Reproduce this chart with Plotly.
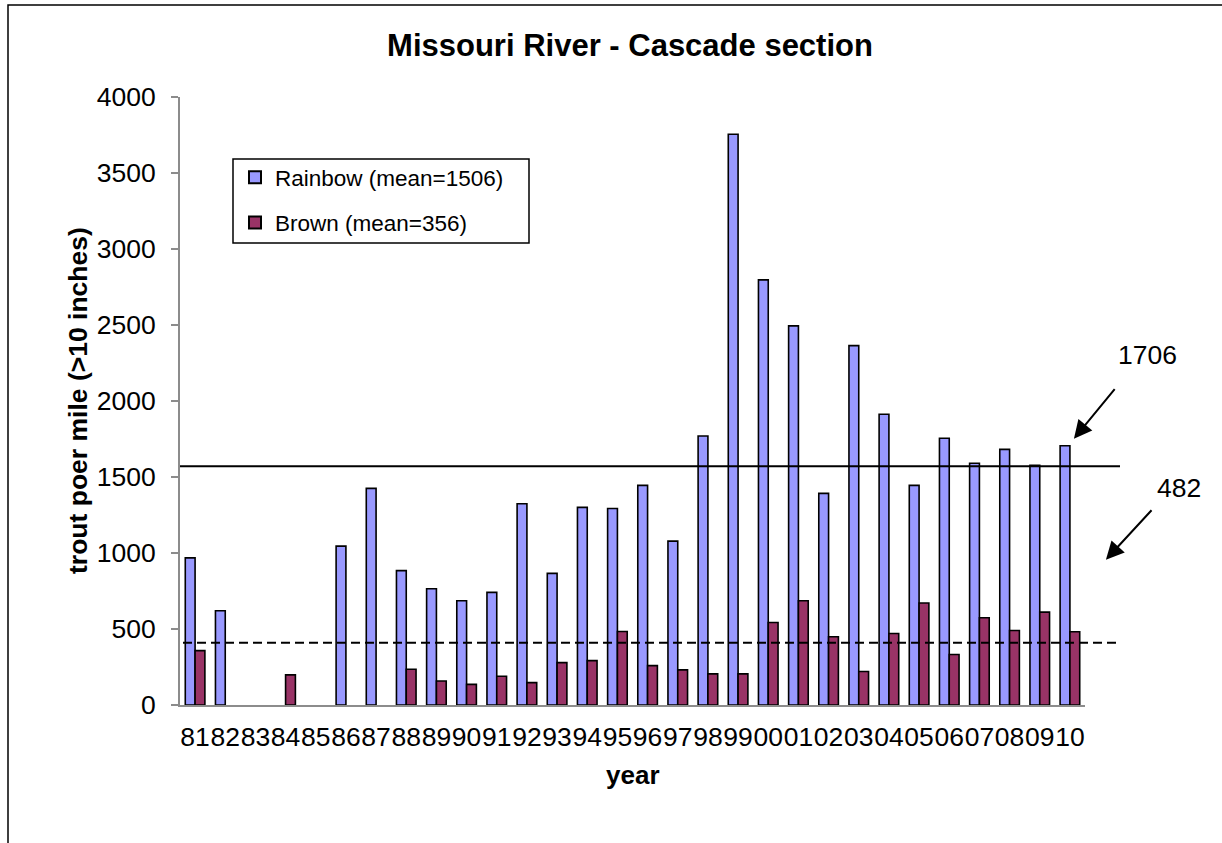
import plotly.graph_objects as go

# ---- data -------------------------------------------------------------
years = ["81", "82", "83", "84", "85", "86", "87", "88", "89", "90",
         "91", "92", "93", "94", "95", "96", "97", "98", "99", "00",
         "01", "02", "03", "04", "05", "06", "07", "08", "09", "10"]

rainbow = [968, 620, None, None, None, 1045, 1425, 884, 765, 686,
           741, 1324, 866, 1300, 1293, 1445, 1078, 1770, 3755, 2797,
           2494, 1392, 2364, 1913, 1445, 1755, 1590, 1682, 1577, 1706]

brown = [358, None, None, 198, None, None, None, 235, 158, 136,
         189, 147, 279, 292, 484, 259, 231, 205, 205, 543,
         686, 449, 220, 470, 671, 332, 574, 490, 611, 482]

rainbow_level = 1570   # solid reference line
brown_level = 410      # dashed reference line

y_ticks = [0, 500, 1000, 1500, 2000, 2500, 3000, 3500, 4000]

# ---- page geometry (pixels) ------------------------------------------
W, H = 1222, 843
PL, PR, PT, PB = 180, 1085, 97, 705


def fx(p):
    return (p - PL) / (PR - PL)


def fy(p):
    return (PB - p) / (PB - PT)


FONT = "Liberation Sans, Arial, sans-serif"
TICK = 26.5

fig = go.Figure()
fig.add_trace(go.Bar(
    x=years, y=rainbow, name="Rainbow (mean=1506)", legendgroup="r",
    marker=dict(color="#9999FF", line=dict(color="black", width=1.6)),
))
fig.add_trace(go.Bar(
    x=years, y=brown, name="Brown (mean=356)", legendgroup="b",
    marker=dict(color="#993366", line=dict(color="black", width=1.6)),
))

# horizontal reference lines running past the right edge of the axes
fig.add_shape(type="line", xref="paper", yref="y", x0=0, x1=fx(1120),
              y0=rainbow_level, y1=rainbow_level,
              line=dict(color="black", width=2))
fig.add_shape(type="line", xref="paper", yref="y", x0=fx(183), x1=fx(1120),
              y0=brown_level, y1=brown_level,
              line=dict(color="black", width=2, dash="9px,5px"))

# outer frame
fig.add_shape(type="rect", xref="paper", yref="paper",
              x0=fx(8), x1=fx(1240), y0=fy(5), y1=fy(870),
              line=dict(color="black", width=1.5), layer="below")

# legend frame
fig.add_shape(type="rect", xref="paper", yref="paper",
              x0=fx(233), x1=fx(529), y0=fy(159), y1=fy(243),
              line=dict(color="black", width=1.5), fillcolor="white",
              layer="below")

# arrows pointing at the last year's values
last = len(years) - 1
fig.add_annotation(x=last, y=rainbow[-1], xref="x", yref="y", text="",
                   showarrow=True, arrowhead=2, arrowsize=1.8, arrowwidth=2,
                   arrowcolor="black", xshift=4, yshift=7, ax=42, ay=-51)
fig.add_annotation(x=last, y=rainbow[-1], xref="x", yref="y",
                   text=str(rainbow[-1]), showarrow=False,
                   xshift=78, yshift=91,
                   font=dict(family=FONT, size=TICK, color="black"))
fig.add_annotation(x=last, y=brown[-1], xref="x", yref="y", text="",
                   showarrow=True, arrowhead=2, arrowsize=1.8, arrowwidth=2,
                   arrowcolor="black", xshift=36, yshift=72, ax=47, ay=-51)
fig.add_annotation(x=last, y=brown[-1], xref="x", yref="y",
                   text=str(brown[-1]), showarrow=False,
                   xshift=109, yshift=144,
                   font=dict(family=FONT, size=TICK, color="black"))

# axis titles
fig.add_annotation(x=fx(78), y=fy(401), xref="paper", yref="paper",
                   text="<b>trout poer mile (>10 inches)</b>", textangle=-90,
                   showarrow=False, xanchor="center", yanchor="middle",
                   font=dict(family=FONT, size=26.5, color="black"))
fig.add_annotation(x=0.5, y=fy(775), xref="paper", yref="paper",
                   text="<b>year</b>", showarrow=False,
                   xanchor="center", yanchor="middle",
                   font=dict(family=FONT, size=26, color="black"))

fig.update_layout(
    width=W, height=H,
    margin=dict(l=PL, r=W - PR, t=PT, b=H - PB, pad=0),
    paper_bgcolor="white", plot_bgcolor="white",
    font=dict(family=FONT, color="black"),
    title=dict(text="<b>Missouri River - Cascade section</b>",
               x=630 / W, y=1 - 45 / H, xanchor="center", yanchor="middle",
               font=dict(family=FONT, size=31, color="black")),
    barmode="group", bargap=0.35, bargroupgap=0.0,
    showlegend=True,
    legend=dict(x=fx(235), y=fy(156), xanchor="left", yanchor="top",
                borderwidth=0, bgcolor="rgba(0,0,0,0)",
                font=dict(family=FONT, size=22.5, color="black"),
                tracegroupgap=13, itemsizing="constant"),
    xaxis=dict(type="category", categoryorder="array", categoryarray=years,
               range=[-0.5, len(years) - 0.5], tickmode="linear", dtick=1,
               tickangle=0,
               showline=True, linecolor="#8c8c8c", linewidth=2,
               ticks="", showgrid=False, zeroline=False,
               tickfont=dict(family=FONT, size=TICK, color="black"),
               ticklabelstandoff=7),
    yaxis=dict(range=[0, 4000], tickvals=y_ticks, showline=True,
               linecolor="#8c8c8c", linewidth=2, ticks="outside",
               ticklen=7, tickcolor="#8c8c8c", tickwidth=1.5,
               showgrid=False, zeroline=False,
               tickfont=dict(family=FONT, size=TICK, color="black"),
               ticklabelstandoff=10),
)

fig.write_html("out.html")
